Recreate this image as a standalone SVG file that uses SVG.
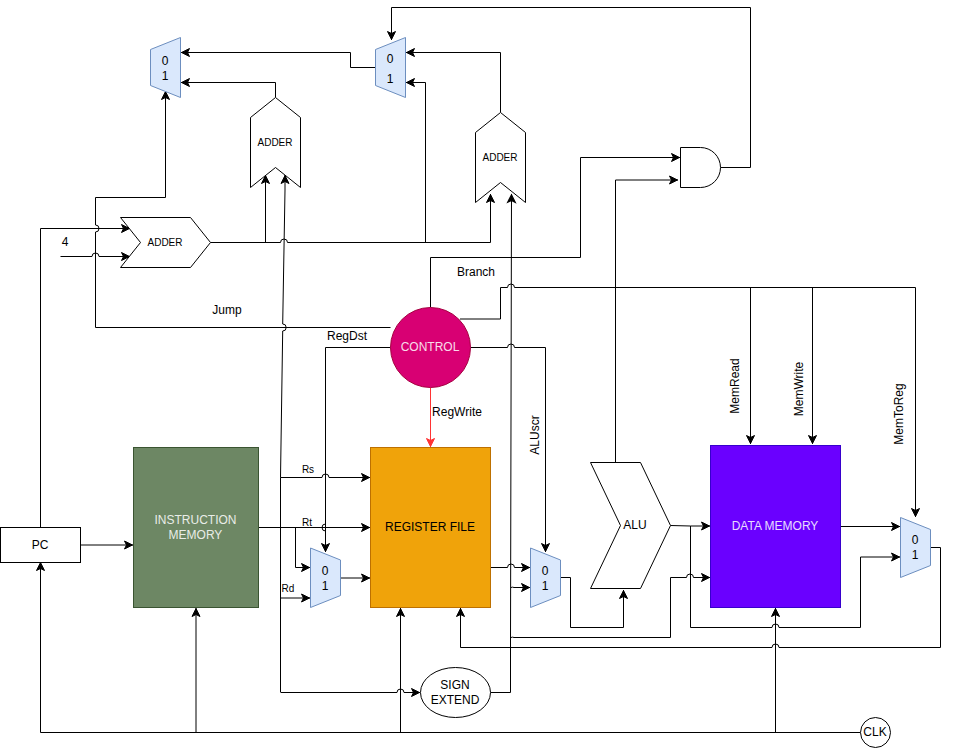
<svg xmlns="http://www.w3.org/2000/svg" width="971" height="748" viewBox="0 0 971 748">
<style>
text{font-family:"Liberation Sans",Arial,sans-serif;font-size:12px;fill:#000;text-anchor:middle}
.s{font-size:10px}
.w{fill:#fff;opacity:.85}
.o{fill:#fff;stroke:#000;stroke-width:1}
.m{fill:#dae8fc;stroke:#6c8ebf;stroke-width:1}
#wires path{fill:none;stroke:#000;stroke-width:1}
#wires .a{marker-end:url(#arr)}
#wires .r{stroke:#ff3333;marker-end:url(#arrR)}
</style>
<defs>
<marker id="arr" markerUnits="userSpaceOnUse" markerWidth="11" markerHeight="11" viewBox="0 0 11 11" refX="10" refY="5.5" orient="auto"><path d="M1.5,1.5L9.5,5.5L1.5,9.5L3.5,5.5z" fill="#000" stroke="#000"/></marker>
<marker id="arrR" markerUnits="userSpaceOnUse" markerWidth="11" markerHeight="11" viewBox="0 0 11 11" refX="10" refY="5.5" orient="auto"><path d="M1.5,1.5L9.5,5.5L1.5,9.5L3.5,5.5z" fill="#ff3333" stroke="#ff3333"/></marker>
</defs>
<rect width="971" height="748" fill="#fff"/>
<g id="wires">
<path class="a" d="M375.5 67.5H350.5V52.5H181"/>
<path class="a" d="M275.5 97.5V82.5H181"/>
<path class="a" d="M390.5 327.5H95.5V232a3.5 3.5 0 0 0 0 -7V197.5H165.5V91"/>
<path class="a" d="M40.5 527.5V228.5H130"/>
<path class="a" d="M60.5 256.5H92a3.5 3.5 0 0 1 7 0H130"/>
<path class="a" d="M210.5 242.5H280.5a3.5 3.5 0 0 1 7 0H490.5V194"/>
<path class="a" d="M265.5 242.5V175"/>
<path class="a" d="M425.5 242.5V82.5H406"/>
<path class="a" d="M500.5 112.5V52.5H406"/>
<path class="a" d="M720.5 167.5H750.5V7.5H391.5V40"/>
<path class="a" d="M430.5 307.5V257.5H580.5V157.5H680"/>
<path class="a" d="M615.5 462.5V180H678"/>
<path class="a" d="M460 319H500.5V287.5H507.5a3.5 3.5 0 0 1 7 0H915.5V517"/>
<path class="a" d="M750.5 287.5V444"/>
<path class="a" d="M812.5 287.5V444"/>
<path class="a" d="M470.5 347.5H507.5a3.5 3.5 0 0 1 7 0H545.5V552"/>
<path class="a" d="M390.5 347.5H325.5V531a3.5 3.5 0 0 1 0 -7V552"/>
<path class="a" d="M281 692.5H397a3.5 3.5 0 0 1 7 0H420"/>
<path d="M280.5 692.5V477.5L282.7 331a3.5 3.5 0 0 0 0 -7L285 190"/>
<path class="a" d="M285 190V175"/>
<path class="a" d="M280.5 477.5H322a3.5 3.5 0 0 1 7 0H370"/>
<path class="a" d="M258.5 527.5H370"/>
<path class="a" d="M295.5 527.5V567.5H310"/>
<path class="a" d="M280.5 598H310"/>
<path class="a" d="M340.5 578H370"/>
<path class="a" d="M490.5 567.5H507.5a3.5 3.5 0 0 1 7 0H530"/>
<path class="a" d="M490.5 692.5H510.5V640L511.5 194"/>
<path class="a" d="M511 587.5a3.5 3.5 0 0 1 3 0H530"/>
<path d="M511 637.5a3.5 3.5 0 0 1 3 0H670.5V577.5H686.5"/>
<path class="a" d="M686.5 577.5a3.5 3.5 0 0 1 7 0H710"/>
<path class="a" d="M560.5 577.5H570.5V627.5H623.5V590"/>
<path class="a" d="M670.5 525.5L690.5 526H710"/>
<path class="a" d="M690.5 526V627.5H772a3.5 3.5 0 0 1 7 0H860.5V557H900"/>
<path class="a" d="M840.5 526.5H900"/>
<path class="a" d="M930.5 547.5H940.5V647.5H779a3.5 3.5 0 0 0 -7 0H460.5V608"/>
<path class="a" d="M860.5 732.5H40.5V562"/>
<path class="a" d="M775.5 732.5V608"/>
<path class="a" d="M400.5 732.5V608"/>
<path class="a" d="M196 732.5V608"/>
<path class="a" d="M81 545H133"/>
<path class="r" d="M430.5 387.5V447"/>
</g>
<g id="mux1"><path class="m" d="M150.5 49.5L180.5 37.5V97.5L150.5 85.5z"/><text x="165" y="64.5">0</text><text x="165" y="79.5">1</text></g>
<g id="mux2"><path class="m" d="M375.5 49.5L405.5 37.5V97.5L375.5 85.5z"/><text x="390" y="63">0</text><text x="390" y="83">1</text></g>
<g id="adder-top"><path class="o" d="M275.5 97.5L300.5 117.5V187.5L275.5 167.5L250.5 187.5V117.5z"/><text class="s" x="275" y="146">ADDER</text></g>
<g id="adder-branch"><path class="o" d="M500.5 112.5L525.5 132.5V202.5L500.5 182.5L475.5 202.5V132.5z"/><text class="s" x="500" y="161">ADDER</text></g>
<g id="adder-pc"><path class="o" d="M120.5 217.5H190.5L210.5 242.5L190.5 267.5H120.5L140.5 242.5z"/><text class="s" x="165" y="246">ADDER</text></g>
<g id="and"><path class="o" d="M680.5 147.5H700.5A20 20 0 0 1 700.5 187.5H680.5z"/></g>
<g id="control"><circle cx="430.5" cy="347.5" r="40" fill="#d80073" stroke="#a50040"/><text class="w" x="430" y="351">CONTROL</text></g>
<g id="pc"><rect class="o" x="0.5" y="527.5" width="80" height="35"/><text x="40" y="549">PC</text></g>
<g id="instruction-memory"><rect x="133.5" y="447.5" width="125" height="160" fill="#6d8764" stroke="#3a5431"/><text class="w" x="195.5" y="524">INSTRUCTION</text><text class="w" x="195.5" y="539">MEMORY</text></g>
<g id="register-file"><rect x="370.5" y="447.5" width="120" height="160" fill="#f0a30a" stroke="#bd7000"/><text x="430" y="531">REGISTER FILE</text></g>
<g id="mux3"><path class="m" d="M310.5 548L340.5 560V595.5L310.5 607.5z"/><text x="325" y="575">0</text><text x="325" y="590">1</text></g>
<g id="mux4"><path class="m" d="M530.5 548L560.5 560V595.5L530.5 607.5z"/><text x="545" y="575">0</text><text x="545" y="590">1</text></g>
<g id="alu"><path class="o" d="M590.5 462.5H640.5L670.5 525.5L640.5 588.5H590.5L620.5 525.5z"/><text x="635" y="529">ALU</text></g>
<g id="data-memory"><rect x="710.5" y="445.5" width="130" height="162" fill="#6a00ff" stroke="#3700cc"/><text class="w" x="775" y="530">DATA MEMORY</text></g>
<g id="mux5"><path class="m" d="M900.5 517.5L930.5 529.5V565.5L900.5 577.5z"/><text x="915" y="544">0</text><text x="915" y="559">1</text></g>
<g id="sign-extend"><ellipse class="o" cx="455.5" cy="692.5" rx="35" ry="25"/><text x="455" y="689">SIGN</text><text x="455" y="704">EXTEND</text></g>
<g id="clk"><circle class="o" cx="875.5" cy="732.5" r="15"/><text x="875" y="736">CLK</text></g>
<g id="labels">
<text x="65" y="246">4</text>
<text x="227" y="314">Jump</text>
<text x="476" y="276">Branch</text>
<text x="347" y="340">RegDst</text>
<text x="457" y="416">RegWrite</text>
<text transform="translate(539 435) rotate(-90)">ALUscr</text>
<text transform="translate(739 386) rotate(-90)">MemRead</text>
<text transform="translate(803 389) rotate(-90)">MemWrite</text>
<text transform="translate(903 414) rotate(-90)">MemToReg</text>
<text class="s" x="308" y="473">Rs</text>
<text class="s" x="307" y="526">Rt</text>
<text class="s" x="288" y="592">Rd</text>
</g>
</svg>
